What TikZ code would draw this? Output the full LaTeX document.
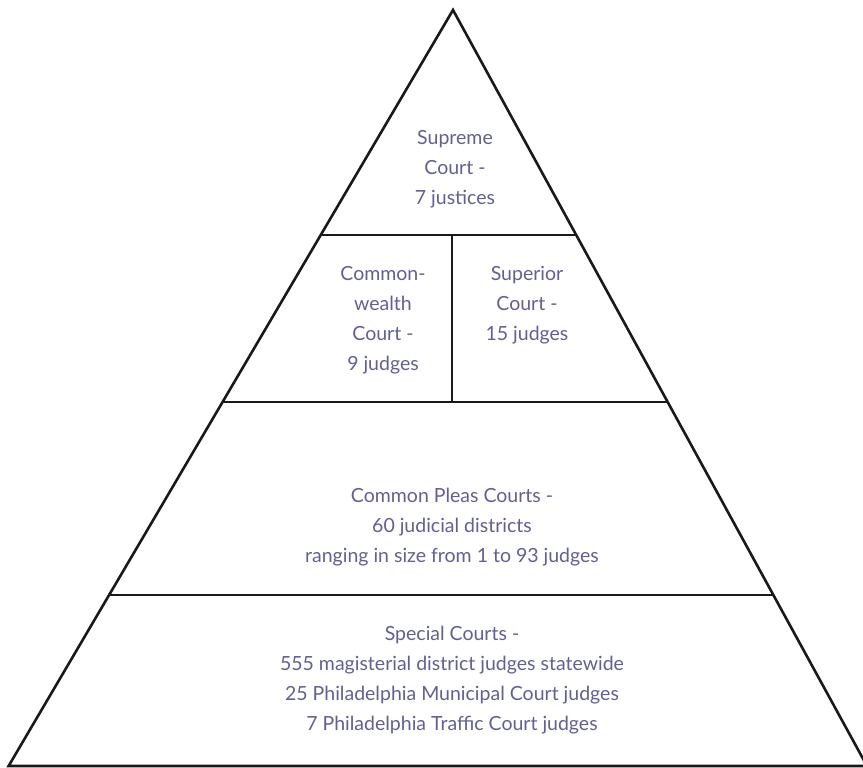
\documentclass[tikz,border=0pt]{standalone}
\usepackage{fontspec}
\setmainfont{Lato}
\definecolor{courtink}{RGB}{98,96,146}
\tikzset{
  tier/.style={draw=black!90,line width=2.6pt,line join=miter},
  courttext/.style={text=courtink,align=center,font=\fontsize{19.5}{30}\selectfont}
}
\begin{document}
\begin{tikzpicture}[x=1pt,y=-1pt]
    \useasboundingbox (0,0) rectangle (863,768);
    \clip (0,0) rectangle (863,768);
    % pyramid outline
    \coordinate (apex) at (453,10);
    \coordinate (bl) at (8.6,766);
    \coordinate (br) at (867,766);
    \draw[tier] (apex) -- (bl) -- (br) -- cycle;
    % tier lines
    \coordinate (l1) at (320.5,235);  \coordinate (r1) at (576,235);
    \coordinate (l2) at (222.4,402);  \coordinate (r2) at (667.5,402);
    \coordinate (l3) at (109,595);    \coordinate (r3) at (773.3,595);
    \coordinate (m1) at (452,235);    \coordinate (m2) at (452,402);
    \draw[tier] (l1) -- (r1);
    \draw[tier] (l2) -- (r2);
    \draw[tier] (l3) -- (r3);
    \draw[tier] (m1) -- (m2);
    % labels
    \node[courttext] (supreme) at (455,169) {Supreme\\Court -\\7 justices};
    \node[courttext] (commonwealth) at (383,320) {Common-\\wealth\\Court -\\9 judges};
    \node[courttext] (superior) at (527,305) {Superior\\Court -\\15 judges};
    \node[courttext] (pleas) at (452,527) {Common Pleas Courts -\\60 judicial districts\\ranging in size from 1 to 93 judges};
    \node[courttext] (special) at (452,680) {Special Courts -\\555 magisterial district judges statewide\\25 Philadelphia Municipal Court judges\\7 Philadelphia Traffic Court judges};
\end{tikzpicture}
\end{document}
